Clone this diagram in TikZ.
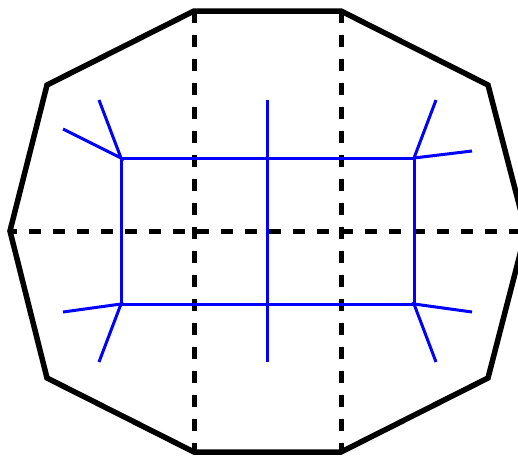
\documentclass[tikz,border=0pt]{standalone}
\usepackage{tikz}

\begin{document}
\begin{tikzpicture}[x=1pt, y=-1pt]
		\useasboundingbox (0, 0) rectangle (518, 455);
		\clip (0, 0) rectangle (518, 455);
		
		% outer decagon
		\draw[line width=5.5pt] (194, 11) -- (341, 11) -- (488, 85) -- (526, 231)
		-- (488, 378) -- (341, 452) -- (194, 452) -- (47, 378) -- (10, 231)
		-- (47, 85) -- cycle;
		
		% cuts
		\draw[line width=5pt, dash pattern=on 12pt off 12pt] (194, 11) -- (194, 452);
		\draw[line width=5pt, dash pattern=on 12pt off 12pt] (341, 11) -- (341, 452);
		\draw[line width=5pt, dash pattern=on 12pt off 12pt, dash phase=5pt] (10, 231) -- (526, 231);
		
		% inner frame
		\coordinate (tl) at (121, 158);
		\coordinate (tr) at (414, 158);
		\coordinate (bl) at (121, 304);
		\coordinate (br) at (414, 304);
		\draw[blue, line width=3pt] (tl) rectangle (br);
		\draw[blue, line width=3pt] (267, 100) -- (267, 362);
		
		% legs at the corners
		\draw[blue, line width=3pt] (99, 100) -- (tl) -- (63, 129);
		\draw[blue, line width=3pt] (436, 100) -- (tr) -- (472, 151);
		\draw[blue, line width=3pt] (63, 312) -- (bl) -- (99, 362);
		\draw[blue, line width=3pt] (472, 312) -- (br) -- (436, 362);
	\end{tikzpicture}
\end{document}
